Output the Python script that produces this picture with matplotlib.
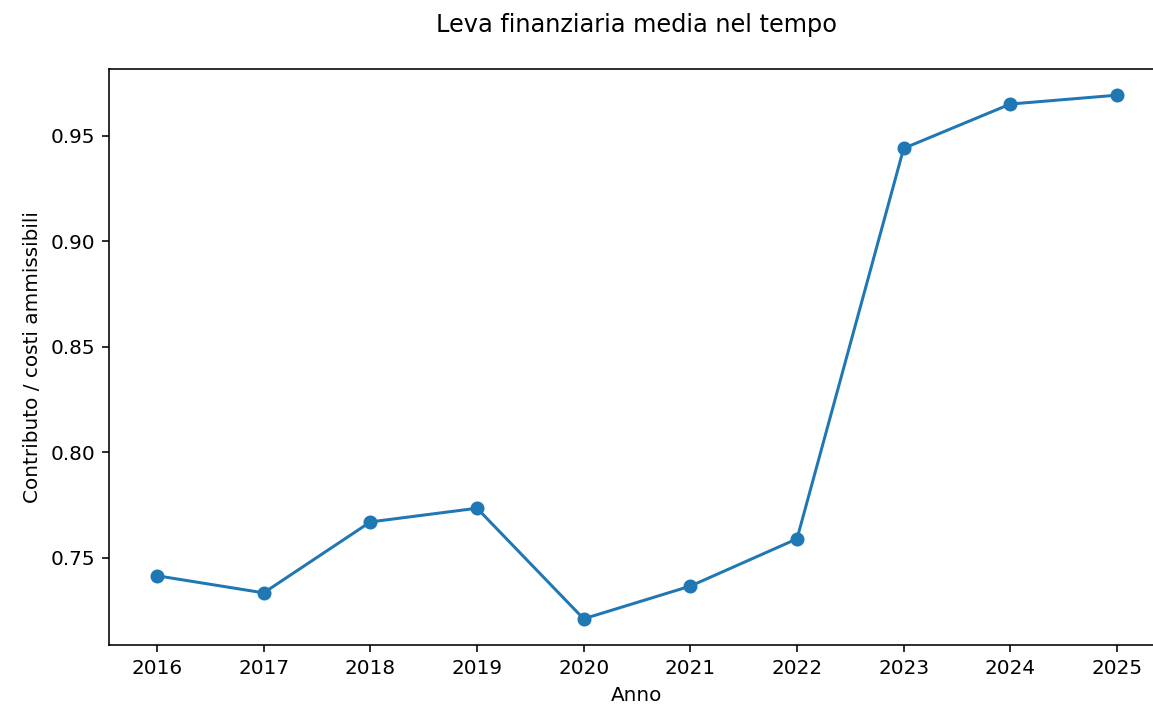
import matplotlib.pyplot as plt

anni = [2016, 2017, 2018, 2019, 2020, 2021, 2022, 2023, 2024, 2025]
leva = [0.7415, 0.7334, 0.7670, 0.7735, 0.7211, 0.7366, 0.7590, 0.9440, 0.9650, 0.9692]

fig, ax = plt.subplots(figsize=(1153 / 144, 708 / 144), dpi=144)
# the reference is cropped on the right, so the axes run past the edge
fig.subplots_adjust(left=109 / 1153, right=1165 / 1153, top=1 - 69 / 708, bottom=1 - 645 / 708)

ax.plot(anni, leva, marker='o', color='#1f77b4')
ax.set_xticks(anni)
ax.set_xlabel('Anno')
ax.set_ylabel('Contributo / costi ammissibili')
fig.suptitle('Leva finanziaria media nel tempo', fontsize=12, x=636 / 1153, y=0.981)

fig.savefig('out.png', dpi=144)
